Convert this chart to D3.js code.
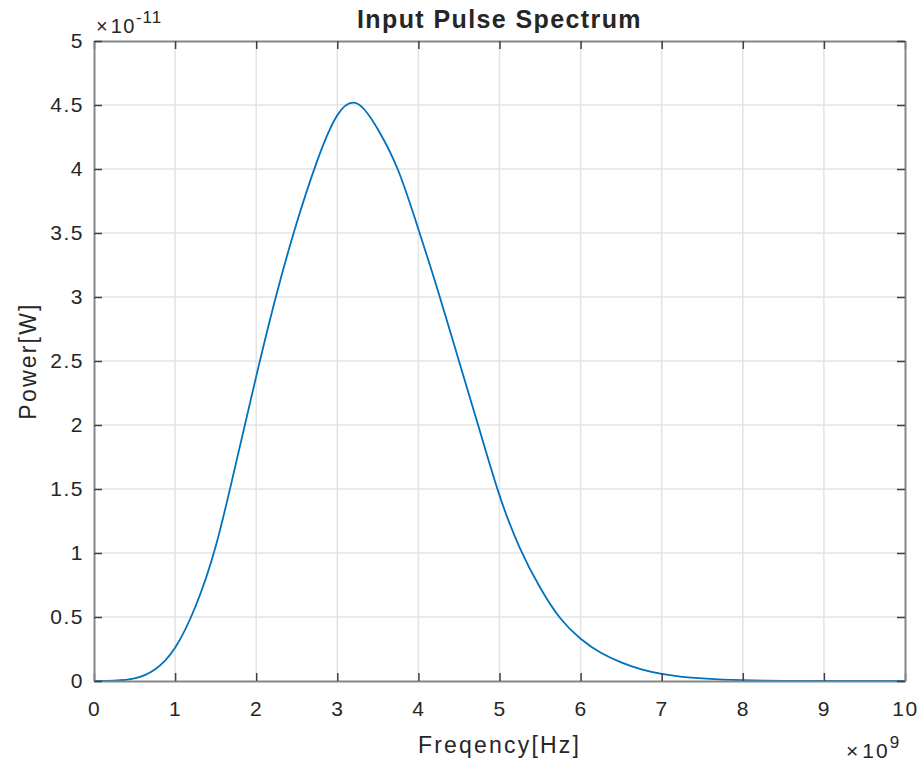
<!DOCTYPE html>
<html>
<head>
<meta charset="utf-8">
<script src="https://cdn.jsdelivr.net/npm/d3@7"></script>
<style>
  body { margin: 0; background: #fff; }
  text { font-family: "Liberation Sans", Arial, sans-serif; fill: #262626; }
</style>
</head>
<body>
<svg id="chart"></svg>
<script>
  // frequency in units of 1e9 Hz, power in units of 1e-11 W
  var freq = [0, 0.25, 0.5, 0.75, 1.0, 1.25, 1.5, 1.75, 2.0, 2.25, 2.5, 2.75, 3.0, 3.25, 3.5,
    3.75, 4.0, 4.25, 4.5, 4.75, 5.0, 5.25, 5.5, 5.75, 6.0, 6.25, 6.5, 6.75, 7.0, 7.25, 7.5,
    7.75, 8.0, 8.5, 9.0, 10.0];
  var power = [0, 0.003, 0.02, 0.09, 0.26, 0.58, 1.05, 1.70, 2.38, 3.02, 3.58, 4.06, 4.42, 4.51, 4.31,
    3.99, 3.53, 3.03, 2.50, 1.97, 1.45, 1.04, 0.73, 0.49, 0.33, 0.22, 0.145, 0.09, 0.055, 0.033, 0.02,
    0.011, 0.006, 0.0015, 0.0003, 0];
  var xTicks = [0, 1, 2, 3, 4, 5, 6, 7, 8, 9, 10];
  var yTicks = [0, 0.5, 1, 1.5, 2, 2.5, 3, 3.5, 4, 4.5, 5];

  var width = 922,
    height = 765,
    padL = 94, padR = 905, padT = 41, padB = 681;

  var chart = d3.select("#chart")
    .attr("width", width)
    .attr("height", height);

  var x = d3.scaleLinear().domain([0, 10]).range([padL, padR]);
  var y = d3.scaleLinear().domain([0, 5]).range([padB, padT]);

  // grid
  chart.append("g").selectAll("line").data(xTicks.slice(1, -1)).enter().append("line")
    .attr("x1", function(d) { return x(d); })
    .attr("x2", function(d) { return x(d); })
    .attr("y1", padT).attr("y2", padB)
    .attr("stroke", "#e3e3e3").attr("stroke-width", 1.5);
  chart.append("g").selectAll("line").data(yTicks.slice(1, -1)).enter().append("line")
    .attr("y1", function(d) { return y(d); })
    .attr("y2", function(d) { return y(d); })
    .attr("x1", padL).attr("x2", padR)
    .attr("stroke", "#e3e3e3").attr("stroke-width", 1.5);

  // curve
  var line = d3.line()
    .x(function(d) { return x(d[0]); })
    .y(function(d) { return Math.min(y(d[1]), padB); })
    .curve(d3.curveNatural);
  chart.append("path")
    .datum(d3.zip(freq, power))
    .attr("d", line)
    .attr("stroke", "#0072bd")
    .attr("fill", "none")
    .attr("stroke-width", 1.8);

  // axes, ticks inward on all sides
  var fmt = d3.format("~g");
  chart.append("g").attr("transform", "translate(0," + padB + ")")
    .call(d3.axisBottom(x).tickValues(xTicks).tickFormat(fmt).tickSizeInner(-8).tickSizeOuter(0).tickPadding(20));
  chart.append("g").attr("transform", "translate(0," + padT + ")")
    .call(d3.axisTop(x).tickValues(xTicks).tickSizeInner(-8).tickSizeOuter(0).tickFormat(""));
  chart.append("g").attr("transform", "translate(" + padL + ",0)")
    .call(d3.axisLeft(y).tickValues(yTicks).tickFormat(fmt).tickSizeInner(-8).tickSizeOuter(0).tickPadding(10));
  chart.append("g").attr("transform", "translate(" + padR + ",0)")
    .call(d3.axisRight(y).tickValues(yTicks).tickSizeInner(-8).tickSizeOuter(0).tickFormat(""));

  chart.selectAll(".domain").attr("stroke", "#868686").attr("stroke-width", 2);
  chart.selectAll(".tick line").attr("stroke", "#404040").attr("stroke-width", 1.5);
  chart.selectAll(".tick text")
    .style("font-size", "21px")
    .style("letter-spacing", "1.5px")
    .style("font-family", "'Liberation Sans', Arial, sans-serif")
    .attr("fill", "#262626");

  // title and labels
  chart.append("text")
    .attr("x", (padL + padR) / 2).attr("y", 28)
    .attr("text-anchor", "middle")
    .style("font-size", "25px").style("font-weight", "bold")
    .style("letter-spacing", "1.4px")
    .attr("fill", "#000")
    .text("Input Pulse Spectrum");
  chart.append("text")
    .attr("x", (padL + padR) / 2).attr("y", 753)
    .attr("text-anchor", "middle")
    .style("font-size", "23px")
    .style("letter-spacing", "2.2px")
    .text("Freqency[Hz]");
  chart.append("text")
    .attr("transform", "translate(36," + ((padT + padB) / 2) + ") rotate(-90)")
    .attr("text-anchor", "middle")
    .style("font-size", "23px")
    .style("letter-spacing", "2.2px")
    .text("Power[W]");

  // exponent labels
  var ey = chart.append("text").attr("x", 96).attr("y", 33).style("font-size", "20px");
  ey.append("tspan").text("\u00d7");
  ey.append("tspan").attr("dx", 3).style("letter-spacing", "1.5px").text("10");
  ey.append("tspan").attr("dy", -10).style("font-size", "17px").style("letter-spacing", "1px").text("-11");

  var ex = chart.append("text").attr("x", 846).attr("y", 758).style("font-size", "21px");
  ex.append("tspan").text("\u00d7");
  ex.append("tspan").attr("dx", 4).style("letter-spacing", "2px").text("10");
  ex.append("tspan").attr("dy", -10).style("font-size", "17px").text("9");
</script>
</body>
</html>
